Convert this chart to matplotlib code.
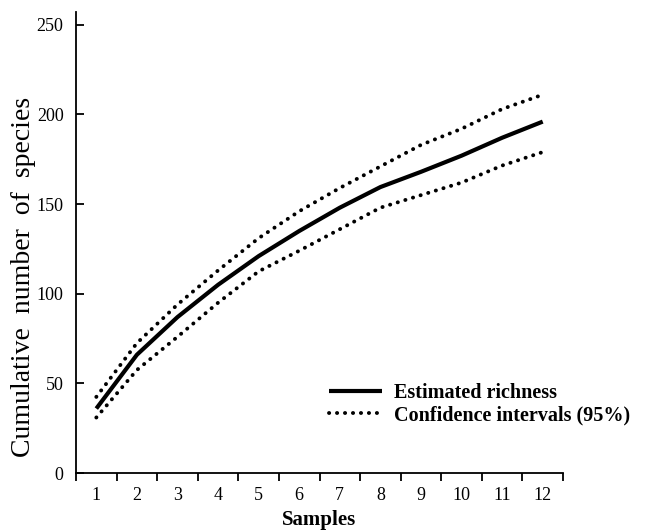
import matplotlib
matplotlib.use("Agg")
import matplotlib.pyplot as plt
import numpy as np
from matplotlib.ticker import FixedLocator, NullFormatter

# values
samples = list(range(1, 13))
richness = [36, 66, 87, 105, 121, 135, 148, 159.5, 168, 177, 187, 196]
ci_upper = [42.5, 72.5, 94, 113, 131, 146, 159, 171, 183, 192, 203, 211]
ci_lower = [31, 57.5, 76, 95, 112.5, 124, 136, 148, 155, 162, 171.5, 179]
y_ticks = [0, 50, 100, 150, 200, 250]

plt.rcParams["font.family"] = ["Liberation Serif", "DejaVu Serif"]

fig = plt.figure(figsize=(6.52, 5.31), dpi=100)
ax = fig.add_axes([0.1166, 0.109, 0.7469, 0.868])

dotted = (0, (0.05, 2.0))
ax.plot(samples, richness, color="black", lw=3.0, solid_capstyle="butt",
        label="Estimated richness")
ax.plot(samples, ci_upper, color="black", lw=2.8, linestyle=dotted,
        dash_capstyle="round", label="Confidence intervals (95%)")
ax.plot(samples, ci_lower, color="black", lw=2.8, linestyle=dotted,
        dash_capstyle="round")

ax.set_xlim(0.5, 12.5)
ax.set_ylim(0, 257)

# category axis: tick marks between samples, labels at sample centres
ax.xaxis.set_major_locator(FixedLocator(np.arange(0.5, 13, 1.0)))
ax.xaxis.set_major_formatter(NullFormatter())
ax.xaxis.set_minor_locator(FixedLocator(samples))
ax.set_xticklabels([str(s) for s in samples], minor=True)
ax.tick_params(axis="x", which="major", direction="out", length=6, width=1.3)
ax.tick_params(axis="x", which="minor", length=0, pad=10, labelsize=13)

ax.set_yticks(y_ticks)
ax.tick_params(axis="y", direction="in", length=6, width=1.3, pad=9, labelsize=13)

for side in ("top", "right"):
    ax.spines[side].set_visible(False)
for side in ("left", "bottom"):
    ax.spines[side].set_linewidth(1.3)

ax.set_xlabel("Samples", fontsize=15, fontweight="bold", labelpad=4)
ax.set_ylabel("Cumulative  number  of  species", fontsize=20)
ax.yaxis.set_label_coords(-0.082, 0.425)

leg = ax.legend(loc="upper left", bbox_to_anchor=(0.505, 0.279),
                bbox_transform=fig.transFigure, frameon=False,
                prop={"size": 14.5, "weight": "bold"}, handlelength=2.6,
                handletextpad=0.6, labelspacing=0.12, borderaxespad=0,
                borderpad=0)

fig.savefig("out.png", dpi=100, facecolor="white")
